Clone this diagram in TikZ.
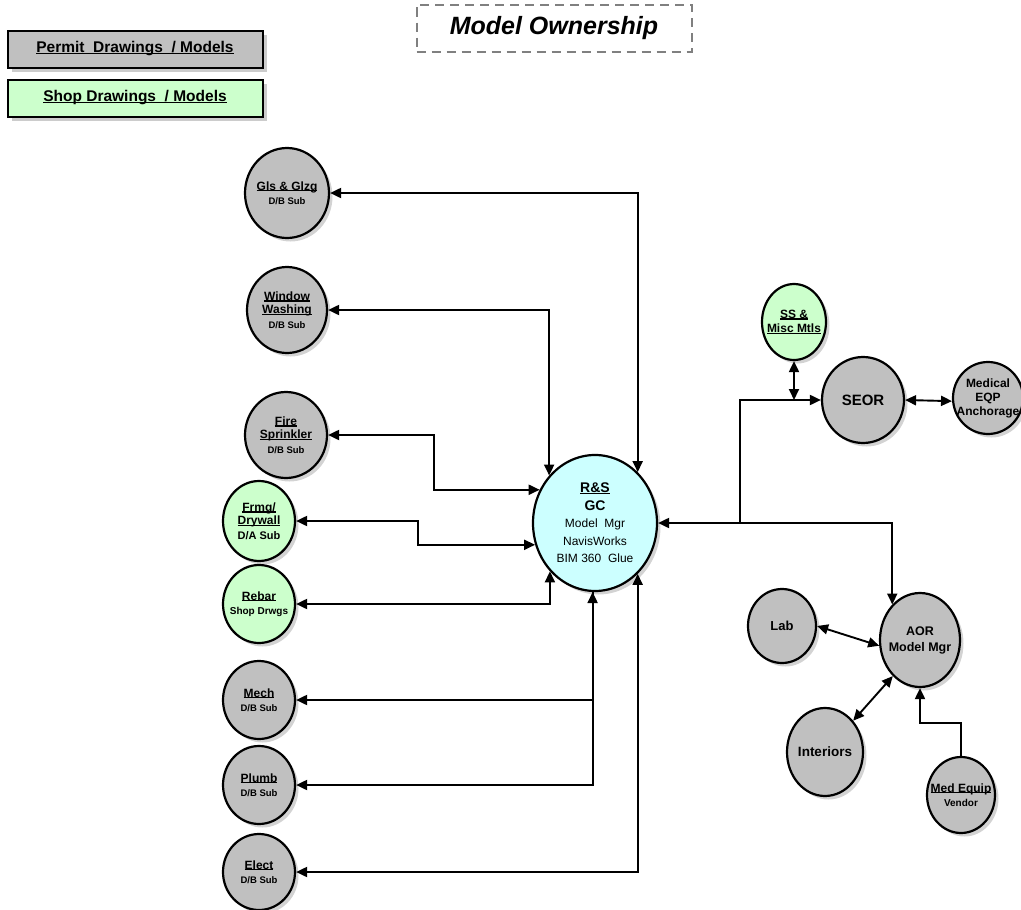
\documentclass[tikz,border=0pt]{standalone}
\usepackage{fontspec}
\setmainfont{Liberation Sans}
\usetikzlibrary{shapes.geometric,arrows.meta,shadows}

\definecolor{cgray}{HTML}{C0C0C0}
\definecolor{cgreen}{HTML}{CCFFCC}
\definecolor{ccyan}{HTML}{CCFFFF}
\definecolor{cdash}{HTML}{808080}

% zero-width centred line, so text never resizes its ellipse
\newcommand{\zw}[1]{\makebox[0pt]{#1}}
% heavy underline sitting just under the baseline
\newcommand{\ulin}[1]{\setbox0\hbox{#1}\rlap{\rule[-1.4pt]{\wd0}{1.5pt}}\box0}
% small second line of a party bubble
\newcommand{\subl}[1]{\zw{\fontsize{9.5}{11}\selectfont #1}}

\tikzset{
  party/.style={ellipse, draw=black, line width=2.2pt, inner sep=0pt, align=center,
    drop shadow={shadow xshift=3.5pt, shadow yshift=-3.5pt, opacity=0.35}},
  grayc/.style={party, fill=cgray},
  greenc/.style={party, fill=cgreen},
  main/.style={party, fill=ccyan},
  legend/.style={rectangle, draw=black, line width=2pt, inner sep=0pt,
    minimum width=255pt, minimum height=37pt,
    font=\fontsize{15.5}{17}\selectfont\bfseries,
    drop shadow={shadow xshift=4pt, shadow yshift=-4pt, opacity=0.4}},
  link/.style={line width=1.9pt, draw=black},
  tip/.tip={Triangle[length=11pt,width=10pt]},
  both/.style={link, tip-tip},
  toend/.style={link, -tip},
  tostart/.style={link, tip-},
  lbl/.style={font=\fontsize{12}{13.5}\selectfont\bfseries},
}

\begin{document}
\begin{tikzpicture}[x=1pt, y=-1pt]
\useasboundingbox (0,0) rectangle (1021,910);

% legend and title
\node[legend, fill=cgray]  (permit) at (135,49) {\ulin{Permit\ \ Drawings\ \ / Models}};
\node[legend, fill=cgreen] (shop)   at (135,98) {\ulin{Shop Drawings\ \ / Models}};
\node[draw=cdash, dash pattern=on 9pt off 6pt, line width=2pt,
      minimum width=275pt, minimum height=47pt,
      font=\fontsize{25}{27}\selectfont\bfseries\itshape] (title) at (554,28) {Model Ownership};

% general contractor
\node[main, minimum width=124pt, minimum height=136pt,
      font=\fontsize{12}{17.5}\selectfont] (rs) at (595,523)
  {\zw{\fontsize{14}{17.5}\selectfont\bfseries\ulin{R\&S}}\\
   \zw{\fontsize{14}{17.5}\selectfont\bfseries GC}\\
   \zw{Model\ \ Mgr}\\ \zw{NavisWorks}\\ \zw{BIM 360\ \ Glue}};

% subcontractors on the left
\node[grayc, lbl, minimum width=84pt, minimum height=90pt] (gls) at (287,193)
  {\zw{\ulin{Gls \& Glzg}}\\[1pt] \subl{D/B Sub}};
\node[grayc, lbl, minimum width=80pt, minimum height=86pt] (wash) at (287,310)
  {\zw{\ulin{Window}}\\ \zw{\ulin{Washing}}\\[1pt] \subl{D/B Sub}};
\node[grayc, lbl, minimum width=82pt, minimum height=86pt] (fire) at (286,435)
  {\zw{\ulin{Fire}}\\ \zw{\ulin{Sprinkler}}\\[1pt] \subl{D/B Sub}};
\node[greenc, lbl, minimum width=72pt, minimum height=80pt] (frmg) at (259,521)
  {\zw{\ulin{Frmg/}}\\ \zw{\ulin{Drywall}}\\[1pt] \zw{\fontsize{11}{12}\selectfont D/A Sub}};
\node[greenc, lbl, minimum width=72pt, minimum height=78pt] (rebar) at (259,604)
  {\zw{\ulin{Rebar}}\\[1pt] \zw{\fontsize{10}{11}\selectfont Shop Drwgs}};
\node[grayc, lbl, minimum width=72pt, minimum height=78pt] (mech) at (259,700)
  {\zw{\ulin{Mech}}\\[1pt] \subl{D/B Sub}};
\node[grayc, lbl, minimum width=72pt, minimum height=78pt] (plumb) at (259,785)
  {\zw{\ulin{Plumb}}\\[1pt] \subl{D/B Sub}};
\node[grayc, lbl, minimum width=72pt, minimum height=76pt] (elect) at (259,872)
  {\zw{\ulin{Elect}}\\[1pt] \subl{D/B Sub}};

% structural side
\node[greenc, lbl, minimum width=64pt, minimum height=76pt] (ss) at (794,322)
  {\zw{\ulin{SS \&}}\\[1pt] \zw{\ulin{Misc Mtls}}};
\node[grayc, minimum width=82pt, minimum height=86pt,
      font=\fontsize{15}{17}\selectfont\bfseries] (seor) at (863,400) {\zw{SEOR}};
\node[grayc, minimum width=70pt, minimum height=72pt,
      font=\fontsize{12}{14}\selectfont\bfseries] (medeqp) at (988,398)
  {\zw{Medical}\\ \zw{EQP}\\ \zw{Anchorage}};

% architect side
\node[grayc, minimum width=68pt, minimum height=74pt,
      font=\fontsize{13}{15}\selectfont\bfseries] (lab) at (782,626) {\zw{Lab}};
\node[grayc, minimum width=80pt, minimum height=94pt,
      font=\fontsize{12.5}{16}\selectfont\bfseries] (aor) at (920,640)
  {\zw{AOR}\\ \zw{Model Mgr}};
\node[grayc, minimum width=76pt, minimum height=88pt,
      font=\fontsize{13.5}{15}\selectfont\bfseries] (int) at (825,752) {\zw{Interiors}};
\node[grayc, lbl, minimum width=68pt, minimum height=76pt] (vend) at (961,795)
  {\zw{\ulin{Med Equip}}\\[1pt] \zw{\fontsize{10}{11}\selectfont Vendor}};

% left-hand links into the GC
\coordinate (firex) at (434,0);
\coordinate (frmgx) at (418,0);
\draw[both] (gls.east) -| (rs.50);
\draw[both] (wash.east) -| (rs.134);
\draw[both] (fire.east) -| (firex |- rs.149) -- (rs.149);
\draw[both] (frmg.east) -| (frmgx |- rs.200) -- (rs.200);
\draw[both] (rebar.east) -| (rs.227);
\draw[both] (mech.east) -| (rs.268);
\draw[tostart] (plumb.east) -| (rs.268);
\draw[both] (elect.east) -| (rs.310);

% right-hand links
\coordinate (hub) at (740,523);
\draw[tostart] (rs.east) -- (hub);
\draw[toend] (hub) |- (seor.west);
\draw[toend] (hub) -| (aor.128);
\draw[both] (ss.south) -- (ss.south |- seor.west);
\draw[both] (seor.east) -- (medeqp.185);
\draw[both] (lab.east) -- (aor.188);
\draw[both] (int.48) -- (aor.233);
\draw[toend] (vend.north) |- ([yshift=-35pt]aor.south) -- (aor.south);
\end{tikzpicture}
\end{document}
